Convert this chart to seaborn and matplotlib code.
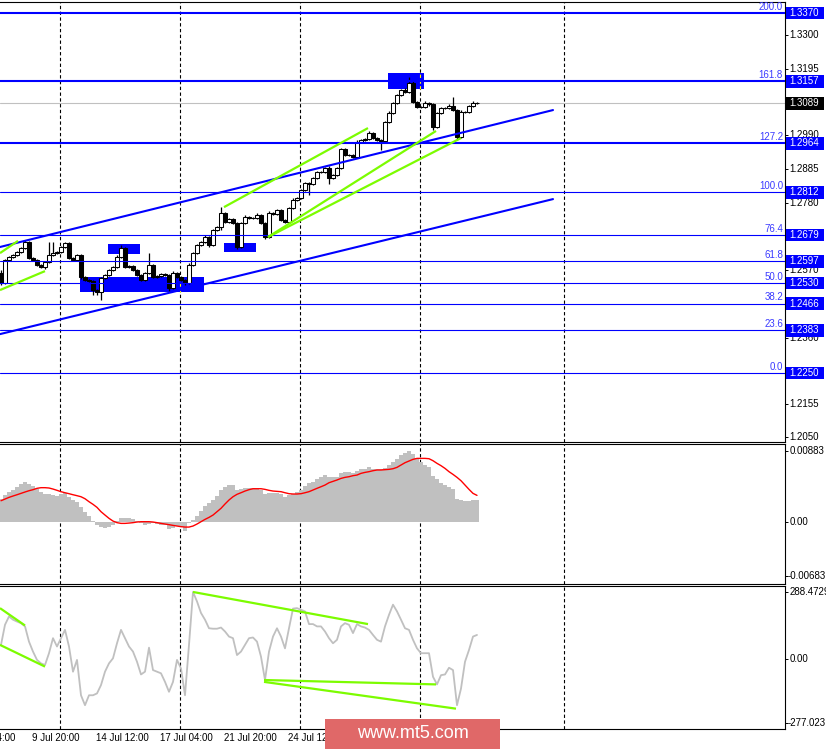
import numpy as np
import matplotlib
matplotlib.use("Agg")
import matplotlib.pyplot as plt
import matplotlib.transforms as mtransforms
from matplotlib.patches import Rectangle
import seaborn as sns

# ---- price data (H4 candles) ----
first_open = 1.2561
closes = [1.2530, 1.2602, 1.2611, 1.2617, 1.2626, 1.2639, 1.2658, 1.2608, 1.2602, 1.2586,
          1.2580, 1.2595, 1.2617, 1.2623, 1.2626, 1.2642, 1.2654, 1.2608, 1.2602, 1.2617,
          1.2549, 1.2539, 1.2536, 1.2508, 1.2502, 1.2546, 1.2555, 1.2570, 1.2580, 1.2611,
          1.2639, 1.2580, 1.2583, 1.2570, 1.2555, 1.2539, 1.2561, 1.2586, 1.2549, 1.2552,
          1.2558, 1.2555, 1.2514, 1.2561, 1.2549, 1.2539, 1.2530, 1.2586, 1.2623, 1.2648,
          1.2658, 1.2673, 1.2648, 1.2695, 1.2704, 1.2748, 1.2720, 1.2729, 1.2717, 1.2642,
          1.2717, 1.2735, 1.2732, 1.2733, 1.2742, 1.2717, 1.2673, 1.2748, 1.2745, 1.2757,
          1.2726, 1.2720, 1.2763, 1.2788, 1.2794, 1.2819, 1.2841, 1.2838, 1.2857, 1.2875,
          1.2876, 1.2888, 1.2857, 1.2866, 1.2888, 1.2947, 1.2928, 1.2927, 1.2922, 1.2969,
          1.2975, 1.2978, 1.2997, 1.2981, 1.2975, 1.2972, 1.3031, 1.3059, 1.3090, 1.3115,
          1.3130, 1.3124, 1.3152, 1.3093, 1.3078, 1.3077, 1.3090, 1.3086, 1.3015, 1.3059,
          1.3074, 1.3075, 1.3081, 1.3068, 1.2984, 1.3062, 1.3063, 1.3081, 1.3090, 1.3089]
# wick lengths in pips
upper_wick = [10, 3, 4, 3, 4, 3, 6, 4, 3, 4, 3, 4, 40, 35, 5, 4, 4, 5, 3, 4,
              4, 3, 4, 4, 3, 4, 3, 4, 3, 5, 10, 4, 3, 4, 3, 4, 4, 37, 4, 3,
              4, 3, 4, 5, 3, 4, 3, 5, 4, 3, 4, 5, 3, 4, 4, 19, 4, 3, 4, 4,
              4, 5, 3, 3, 5, 4, 4, 5, 3, 4, 4, 3, 4, 5, 3, 4, 4, 3, 4, 4,
              3, 4, 5, 3, 4, 4, 4, 3, 4, 5, 3, 4, 5, 3, 4, 3, 4, 5, 4, 4,
              5, 6, 19, 6, 4, 4, 5, 4, 4, 4, 4, 3, 5, 28, 4, 5, 3, 4, 5, 3]
lower_wick = [7, 3, 4, 3, 4, 3, 4, 4, 3, 4, 3, 5, 4, 3, 4, 3, 4, 4, 3, 4,
              6, 4, 3, 15, 8, 25, 3, 4, 3, 4, 4, 4, 3, 4, 4, 4, 3, 4, 4, 3,
              4, 3, 8, 4, 3, 4, 5, 4, 3, 4, 3, 4, 5, 3, 4, 10, 4, 3, 4, 5,
              4, 3, 4, 3, 4, 4, 6, 4, 3, 4, 4, 3, 4, 3, 4, 3, 4, 34, 4, 3,
              4, 3, 19, 4, 3, 4, 4, 3, 4, 3, 4, 3, 4, 4, 4, 28, 4, 3, 4, 3,
              4, 3, 4, 4, 5, 3, 4, 4, 9, 4, 3, 4, 3, 4, 8, 4, 3, 4, 3, 2]

# ---- MACD (units of 1e-5) ----
macd_hist = [279, 333, 367, 396, 437, 466, 491, 471, 446, 404,
             367, 342, 342, 333, 321, 346, 354, 312, 271, 250,
             187, 125, 71, 12, -42, -71, -75, -62, -42, 4,
             42, 46, 46, 29, 4, -21, -42, -29, -21, -29,
             -42, -42, -96, -83, -54, -71, -112, -21, 21, 71,
             137, 200, 229, 271, 321, 396, 437, 458, 458, 396,
             404, 417, 417, 417, 404, 396, 342, 354, 354, 362,
             342, 312, 333, 342, 375, 396, 446, 479, 500, 529,
             562, 583, 562, 562, 562, 612, 621, 621, 612, 633,
             654, 662, 687, 654, 654, 654, 666, 704, 746, 779,
             833, 862, 883, 845, 791, 750, 708, 679, 571, 529,
             487, 458, 437, 408, 279, 271, 258, 258, 271, 271]
macd_signal = [262, 283, 304, 321, 337, 354, 371, 387, 400, 417,
               425, 425, 421, 408, 392, 375, 362, 350, 337, 325,
               312, 287, 250, 217, 179, 125, 83, 42, 8, -12,
               -21, -21, -17, -12, -4, 0, 0, 0, -4, -12,
               -21, -29, -37, -46, -54, -62, -67, -67, -54, -29,
               0, 29, 54, 83, 125, 167, 221, 271, 312, 342,
               362, 383, 400, 412, 412, 412, 404, 392, 383, 379,
               375, 362, 350, 346, 346, 350, 362, 375, 396, 417,
               437, 458, 487, 504, 521, 541, 554, 562, 575, 583,
               604, 616, 625, 637, 646, 646, 650, 654, 662, 679,
               708, 737, 758, 779, 791, 791, 791, 787, 762, 729,
               700, 666, 625, 591, 554, 512, 458, 404, 354, 329]

# ---- CCI ----
cci = [61, 148, 184, 170, 162, 155, 141, 75, 32, -4,
       -19, -26, 25, 90, 54, 90, 126, 54, -55, -4,
       -157, -200, -157, -157, -149, -113, -55, -19, 3, 68,
       126, 90, 54, 32, -12, -67, -55, 49, -48, -55,
       -62, -99, -142, -99, -4, -41, -157, 61, 290, 249,
       199, 170, 133, 131, 131, 136, 119, 97, 90, 17,
       32, 61, 90, 93, 75, 10, -91, 32, 97, 133,
       97, 46, 133, 218, 220, 213, 206, 151, 151, 141,
       141, 119, 90, 68, 83, 141, 155, 148, 112, 151,
       141, 136, 126, 104, 83, 75, 141, 191, 235, 206,
       170, 133, 126, 83, 46, 25, 25, 25, -77, -110,
       -70, -67, -38, -48, -200, -128, -12, 39, 97, 104]

# ---- objects on the price chart ----
fib_names = ["200.0", "161.8", "127.2", "100.0", "76.4", "61.8", "50.0", "38.2", "23.6", "0.0"]
fib_levels = [1.3370, 1.3157, 1.2964, 1.2812, 1.2679, 1.2597, 1.2530, 1.2466, 1.2383, 1.2250]
fib_thick = [True, True, True, False, False, False, False, False, False, False]
price_ticks = [1.3300, 1.3195, 1.2990, 1.2885, 1.2780, 1.2570, 1.2360, 1.2155, 1.2050]
last_price = 1.3089

chan_x = [-0.25, 138.0]
chan_upper = [1.2642, 1.3068]
chan_lower = [1.2371, 1.2791]

green_x0 = [-0.25, -0.25, 55.75, 66.75, 66.75]
green_x1 = [4.25, 11.0, 91.75, 108.75, 115.0]
green_p0 = [1.2623, 1.2508, 1.2766, 1.2673, 1.2673]
green_p1 = [1.2661, 1.2567, 1.3012, 1.3003, 1.2981]

rect_x0 = [19.75, 26.75, 55.75, 96.75]
rect_x1 = [50.75, 34.75, 63.75, 105.75]
rect_lo = [1.2502, 1.2620, 1.2626, 1.3134]
rect_hi = [1.2549, 1.2651, 1.2654, 1.3183]

cci_gx0 = [-0.25, -0.25, 48.0, 65.75, 65.75]
cci_gx1 = [6.0, 11.0, 91.75, 108.75, 113.75]
cci_gv0 = [220, 61, 290, -91, -99]
cci_gv1 = [145, -33, 151, -110, -215]

grid_bars = [14.75, 44.75, 74.75, 104.75, 140.75]
time_bars = [-8.25, 7.75, 23.75, 39.75, 55.75, 71.75]
time_labels = ["7 Jul 04:00", "9 Jul 20:00", "14 Jul 12:00", "17 Jul 04:00",
               "21 Jul 20:00", "24 Jul 12:00"]

# ---- figure ----
sns.set_style("white")
plt.rcParams['font.family'] = ['Liberation Sans', 'DejaVu Sans']
FS = 7
W, H = 826, 750
BLUE = '#0000ff'
LIME = '#7cfc00'

fig = plt.figure(figsize=(W / 100, H / 100), dpi=100)


def px_rect(x0, y0, x1, y1):
    return [x0 / W, 1 - y1 / H, (x1 - x0) / W, (y1 - y0) / H]


ax_p = fig.add_axes(px_rect(0, 2, 785, 441.5))
ax_m = fig.add_axes(px_rect(0, 443.5, 785, 583.5))
ax_c = fig.add_axes(px_rect(0, 585.5, 785, 729))

n = len(closes)
idx = np.arange(n)
c = np.array(closes)
o = np.r_[first_open, c[:-1]]
hi = np.maximum(o, c) + np.array(upper_wick) * 1e-4
lo = np.minimum(o, c) - np.array(lower_wick) * 1e-4
bull = c >= o

# grid
for ax in (ax_p, ax_m, ax_c):
    for g in grid_bars:
        ax.axvline(g, color='black', lw=0.8, ls=(0, (3, 2.2)), zorder=1)

# rectangles (background)
for x0, x1, p0, p1 in zip(rect_x0, rect_x1, rect_lo, rect_hi):
    ax_p.add_patch(Rectangle((x0, p0), x1 - x0, p1 - p0, color=BLUE, lw=0, zorder=2))
    for g in grid_bars:
        if x0 < g < x1:
            ax_p.plot([g, g], [p0, p1], color='yellow', lw=0.8, ls=(0, (3, 2.2)), zorder=2.1)

# fibo + current price
for name, lev, thick in zip(fib_names, fib_levels, fib_thick):
    ax_p.axhline(lev, color=BLUE, lw=1.5 if thick else 0.8, zorder=6)
ax_p.axhline(last_price, color='#c0c0c0', lw=0.8, zorder=1.5)

# candles
ax_p.vlines(idx, lo, hi, color='black', lw=0.9, zorder=4)
body = np.maximum(np.abs(c - o), 0.00012)
ax_p.bar(idx, body, bottom=np.minimum(o, c), width=0.78,
         color=np.where(bull, 'white', 'black'), edgecolor='black', linewidth=0.75, zorder=5)

# channel & trend lines
ax_p.plot(chan_x, chan_upper, color=BLUE, lw=1.5, zorder=7)
ax_p.plot(chan_x, chan_lower, color=BLUE, lw=1.5, zorder=7)
for x0, x1, p0, p1 in zip(green_x0, green_x1, green_p0, green_p1):
    ax_p.plot([x0, x1], [p0, p1], color=LIME, lw=1.6, zorder=8, solid_capstyle='butt')

# MACD
hist_vals = np.array(macd_hist) * 1e-5
sig_vals = np.array(macd_signal) * 1e-5
sns.barplot(x=idx, y=hist_vals, native_scale=True, color='#c0c0c0', saturation=1,
            width=0.82, errorbar=None, linewidth=0, ax=ax_m, zorder=2)
sns.lineplot(x=idx, y=sig_vals, color='red', lw=1.0, ax=ax_m, zorder=3)

# CCI
sns.lineplot(x=idx, y=cci, color='#c0c0c0', lw=1.3, ax=ax_c, zorder=2)
for x0, x1, v0, v1 in zip(cci_gx0, cci_gx1, cci_gv0, cci_gv1):
    ax_c.plot([x0, x1], [v0, v1], color=LIME, lw=1.6, zorder=3, solid_capstyle='butt')

# axes formatting
ax_p.set_ylim(1.20369, 1.34042)
ax_m.set_ylim(-0.00772, 0.00977)
ax_c.set_ylim(-303, 318)
for ax in (ax_p, ax_m, ax_c):
    ax.set_xlim(-0.25, 196.0)
    ax.set_xlabel('')
    ax.set_ylabel('')
    ax.set_xticks([])
    ax.spines['left'].set_visible(False)
    for s in ('right', 'top', 'bottom'):
        ax.spines[s].set_color('black')
        ax.spines[s].set_linewidth(0.8)
    ax.tick_params(axis='y', left=False, right=True, labelleft=False, labelright=False,
                   length=2.5, width=0.7, color='black', direction='out')
    ax.set_facecolor('white')

lab_x = 789.5 / 785
box_x = 786 / 785
box_w = 38 / 785

# price scale labels
tp = mtransforms.blended_transform_factory(ax_p.transAxes, ax_p.transData)
ax_p.set_yticks(price_ticks + fib_levels + [last_price])
for t in price_ticks:
    ax_p.text(lab_x, t, f"{t:.4f}", transform=tp, fontsize=FS, ha='left', va='center',
              color='black', clip_on=False, zorder=10)
box_h = 12.5 * (1.34042 - 1.20369) / 439.5
for lev in fib_levels + [last_price]:
    fc = 'black' if lev == last_price else BLUE
    ax_p.add_patch(Rectangle((box_x, lev - box_h / 2), box_w, box_h, transform=tp,
                             facecolor=fc, edgecolor='none', clip_on=False, zorder=11))
    ax_p.text(lab_x, lev, f"{lev:.4f}", transform=tp, fontsize=FS, ha='left', va='center',
              color='white', clip_on=False, zorder=12)
for name, lev in zip(fib_names, fib_levels):
    ax_p.text(783 / 785, lev + 0.0004, name, transform=tp, fontsize=FS, ha='right',
              va='bottom', color='#3a3aff', clip_on=False, zorder=10)

# MACD labels
tm = mtransforms.blended_transform_factory(ax_m.transAxes, ax_m.transData)
macd_ticks = [0.00883, 0.0, -0.00683]
macd_labels = ["0.00883", "0.00", "-0.00683"]
ax_m.set_yticks(macd_ticks)
for v, s in zip(macd_ticks, macd_labels):
    ax_m.text(lab_x if v >= 0 else 788 / 785, v, s, transform=tm, fontsize=FS,
              ha='left', va='center', color='black', clip_on=False)

# CCI labels
tc = mtransforms.blended_transform_factory(ax_c.transAxes, ax_c.transData)
cci_ticks = [288.4729, 0.0, -277.023]
cci_labels = ["288.4729", "0.00", "-277.023"]
ax_c.set_yticks(cci_ticks)
for v, s in zip(cci_ticks, cci_labels):
    ax_c.text(lab_x if v >= 0 else 788 / 785, v, s, transform=tc, fontsize=FS,
              ha='left', va='center', color='black', clip_on=False)

# time labels
tt = mtransforms.blended_transform_factory(ax_c.transData, fig.transFigure)
for b, s in zip(time_bars, time_labels):
    ax_c.text(b, 1 - 738 / H, s, transform=tt, fontsize=FS, ha='left', va='center',
              color='black', clip_on=False)

# watermark
fig.patches.append(Rectangle((325 / W, 1 - 749 / H), 175 / W, 30 / H,
                             transform=fig.transFigure, facecolor='#e06868',
                             edgecolor='none', zorder=20))
fig.text(412.5 / W, 1 - 734 / H, "www.mt5.com", color='white', fontsize=13,
         ha='center', va='center', zorder=21)

fig.savefig('out.png', dpi=100)
